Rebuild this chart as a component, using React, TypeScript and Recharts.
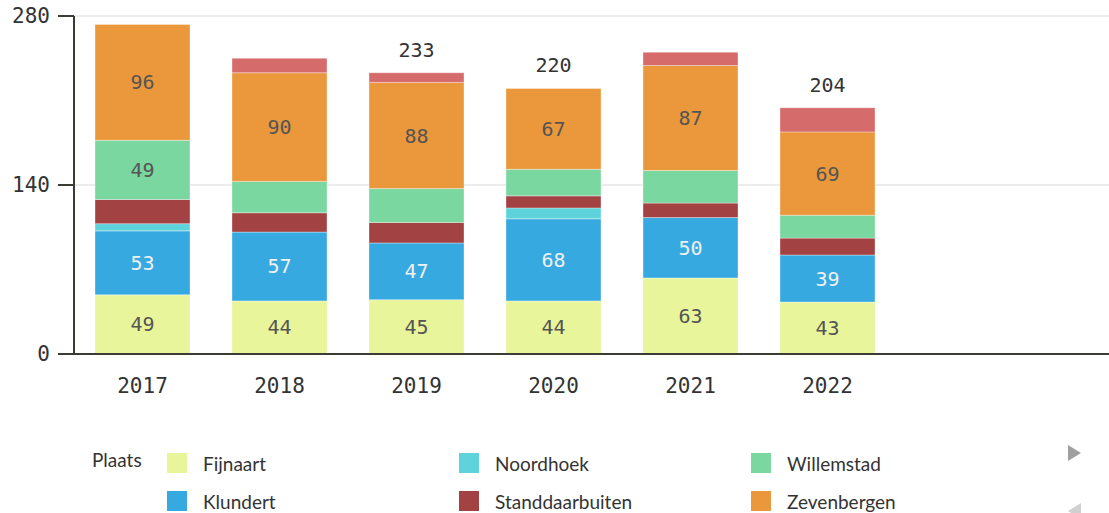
import React from "react";
import { BarChart, Bar, XAxis, YAxis, CartesianGrid, LabelList } from "recharts";

const years = ["2017", "2018", "2019", "2020", "2021", "2022"];
const fijnaart = [49, 44, 45, 44, 63, 43];
const klundert = [53, 57, 47, 68, 50, 39];
const noordhoek = [6, 0, 0, 9, 0, 0];
const standdaarbuiten = [20, 16, 17, 10, 12, 14];
const willemstad = [49, 26, 28, 22, 27, 19];
const zevenbergen = [96, 90, 88, 67, 87, 69];
const zevenbergschenHoek = [0, 12, 8, 0, 11, 20];
const totalLabels = [null, null, "233", "220", null, "204"];
const yTicks = [0, 140, 280];

const series = [
  { key: "Fijnaart", values: fijnaart, color: "#e8f59a", text: "#555" },
  { key: "Klundert", values: klundert, color: "#36a9e0", text: "#f0f0f0" },
  { key: "Noordhoek", values: noordhoek, color: "#5fd3dc", text: "#555" },
  { key: "Standdaarbuiten", values: standdaarbuiten, color: "#a34243", text: "#eee" },
  { key: "Willemstad", values: willemstad, color: "#79d79f", text: "#555" },
  { key: "Zevenbergen", values: zevenbergen, color: "#eb973b", text: "#555" },
  { key: "Zevenbergschen Hoek", values: zevenbergschenHoek, color: "#d66b6b", text: "#555" },
];

// legend shows one page only (6 items), the rest is behind the arrow
const legendItems = series.slice(0, 6);

const data = years.map((year, i) => {
  const row: Record<string, any> = { year };
  series.forEach((s) => (row[s.key] = s.values[i]));
  return row;
});

// topmost non-empty segment per year carries the total label
const topSeries: Record<string, string> = {};
years.forEach((year, i) => {
  series.forEach((s) => {
    if (s.values[i] > 0) topSeries[year] = s.key;
  });
});

const MONO = "'DejaVu Sans Mono', monospace";
const AXIS = "#3c3c34";

const SegmentLabel = (color: string) => (props: any) => {
  const { x, y, width, height, value } = props;
  if (value == null || value < 30) return null;
  return (
    <text
      x={x + width / 2}
      y={y + height / 2}
      textAnchor="middle"
      dominantBaseline="central"
      fill={color}
      fontFamily={MONO}
      fontSize={20}
    >
      {value}
    </text>
  );
};

const TotalLabel = (key: string) => (props: any) => {
  const { x, y, width, value } = props;
  if (topSeries[value] !== key) return null;
  const t = totalLabels[years.indexOf(value)];
  if (!t) return null;
  return (
    <text
      x={x + width / 2}
      y={y - 23}
      textAnchor="middle"
      dominantBaseline="central"
      fill="#333"
      fontFamily={MONO}
      fontSize={20}
    >
      {t}
    </text>
  );
};

export default function App() {
  return (
    <div style={{ position: "absolute", left: 0, top: 0, width: 1109, height: 513, background: "#fff", overflow: "hidden" }}>
      <BarChart
        width={1109}
        height={400}
        data={data}
        margin={{ top: 16, right: 0, bottom: 0, left: 0 }}
        barSize={95}
      >
        <CartesianGrid vertical={false} stroke="#ececec" strokeWidth={2} />
        <XAxis
          dataKey="year"
          height={46}
          padding={{ left: 0, right: 213 }}
          axisLine={{ stroke: AXIS, strokeWidth: 2 }}
          tickLine={false}
          tickSize={0}
          tickMargin={24}
          tick={{ fill: "#333", fontFamily: MONO, fontSize: 21 }}
        />
        <YAxis
          width={74}
          domain={[0, 280]}
          ticks={yTicks}
          interval={0}
          axisLine={{ stroke: AXIS, strokeWidth: 2 }}
          tickLine={{ stroke: AXIS, strokeWidth: 2 }}
          tickSize={16}
          tickMargin={8}
          tick={{ fill: "#333", fontFamily: MONO, fontSize: 21 }}
        />
        {series.map((s) => (
          <Bar
            key={s.key}
            dataKey={s.key}
            stackId="a"
            fill={s.color}
            stroke="#ffffff"
            strokeOpacity={0.35}
            strokeWidth={1}
            isAnimationActive={false}
          >
            <LabelList dataKey={s.key} content={SegmentLabel(s.text)} />
            <LabelList dataKey="year" content={TotalLabel(s.key)} />
          </Bar>
        ))}
      </BarChart>

      <div
        style={{
          position: "absolute",
          left: 92,
          top: 447,
          fontFamily: "Lato, sans-serif",
          fontSize: 19,
          color: "#333",
          display: "flex",
        }}
      >
        <div style={{ width: 75, lineHeight: "26px" }}>Plaats</div>
        <div
          style={{
            display: "grid",
            gridTemplateColumns: "292px 292px 292px",
            gridTemplateRows: "26px 26px",
            gridAutoFlow: "column",
            rowGap: 12,
            marginTop: 3,
          }}
        >
          {legendItems.map((s) => (
            <div key={s.key} style={{ display: "flex", alignItems: "center", height: 26 }}>
              <span style={{ width: 20, height: 20, background: s.color, display: "inline-block", marginRight: 16 }} />
              <span>{s.key}</span>
            </div>
          ))}
        </div>
      </div>
      <svg style={{ position: "absolute", left: 1060, top: 440 }} width={30} height={73}>
        <polygon points="8,5 21,13 8,21" fill="#a0a0a0" />
        <polygon points="21,63 8,71 21,79" fill="#d0d0d0" />
      </svg>
    </div>
  );
}
